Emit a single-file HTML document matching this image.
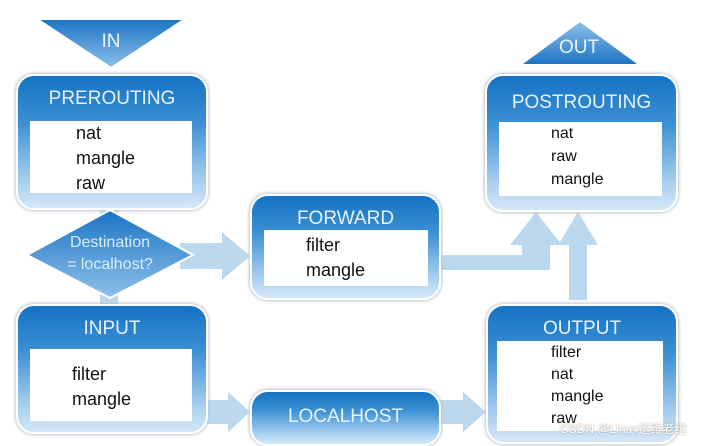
<!DOCTYPE html><html><head><style>
body{margin:0;width:702px;height:442px;background:#fff;position:relative;overflow:hidden;font-family:"Liberation Sans",sans-serif}
.b{position:absolute;border-radius:18px;border:2px solid #fff;box-shadow:0 0 3px 1px #b8c4d0;background:linear-gradient(#1573c4 0%,#3b8fd3 35%,#a9cff0 80%,#d5e8f8 100%)}
.t{position:absolute;left:0;right:0;text-align:center;color:#e8f2fc;font-size:19px}
.w{position:absolute;background:#fff;color:#111;font-size:18px;line-height:25px}
svg{position:absolute;left:0;top:0}
</style></head><body>
<svg width="702" height="442">
<defs><linearGradient id="g" x1="0" y1="0" x2="0" y2="1"><stop offset="0" stop-color="#1a74c4"/><stop offset="1" stop-color="#8fc0ea"/></linearGradient>
<linearGradient id="g2" x1="0" y1="0" x2="0" y2="1"><stop offset="0" stop-color="#8fc0ea"/><stop offset="1" stop-color="#1a74c4"/></linearGradient></defs>
<g fill="#bcd8ef">
<rect x="100" y="205" width="18" height="100"/>
<polygon points="180,243 222,243 222,232 250,256 222,280 222,269 180,269"/>
<polygon points="440,255 522,255 522,245 510,245 536,212 562,245 550,245 550,270 440,270"/>
<polygon points="569,300 569,245 558,245 578,212 598,245 587,245 587,300"/>
<polygon points="205,400 228,400 228,392 250,412 228,432 228,424 205,424"/>
<polygon points="440,400 463,400 463,392 486,412 463,432 463,424 440,424"/>
</g>
<polygon points="37,19 185,19 111,68" fill="url(#g)" stroke="#fff" stroke-width="2"/>
<polygon points="520,65 640,65 580,21" fill="url(#g2)" stroke="#fff" stroke-width="2"/>
<text x="111" y="47" fill="#e8f2fc" font-size="19" text-anchor="middle" font-family="Liberation Sans">IN</text>
<text x="579" y="53" fill="#e8f2fc" font-size="19" text-anchor="middle" font-family="Liberation Sans">OUT</text>
</svg>
<div class="b" style="left:16px;top:74px;width:188px;height:132px"><div class="t" style="top:12px">PREROUTING</div>
<div class="w" style="left:12px;top:45px;width:162px;height:72px;padding-left:46px;box-sizing:border-box;padding-top:0">nat<br>mangle<br>raw</div></div>
<svg width="702" height="442"><polygon points="110,210 193,255 110,298 27,255" fill="url(#g)" stroke="#fff" stroke-width="2"/>
<text x="110" y="247" fill="#dbeaf8" font-size="16" text-anchor="middle" font-family="Liberation Sans">Destination</text>
<text x="110" y="269" fill="#dbeaf8" font-size="16" text-anchor="middle" font-family="Liberation Sans">= localhost?</text></svg>
<div class="b" style="left:250px;top:194px;width:187px;height:102px"><div class="t" style="top:12px">FORWARD</div>
<div class="w" style="left:12px;top:34px;width:164px;height:56px;padding-left:42px;box-sizing:border-box;padding-top:3px">filter<br>mangle</div></div>
<div class="b" style="left:485px;top:74px;width:189px;height:134px"><div class="t" style="top:16px">POSTROUTING</div>
<div class="w" style="left:12px;top:46px;width:163px;height:74px;padding-left:52px;box-sizing:border-box;font-size:16px;line-height:23px;padding-top:0">nat<br>raw<br>mangle</div></div>
<div class="b" style="left:16px;top:304px;width:188px;height:126px"><div class="t" style="top:12px">INPUT</div>
<div class="w" style="left:12px;top:43px;width:162px;height:72px;padding-left:42px;box-sizing:border-box;padding-top:13px">filter<br>mangle</div></div>
<div class="b" style="left:250px;top:390px;width:187px;height:52px"><div class="t" style="top:14px">LOCALHOST</div></div>
<div class="b" style="left:486px;top:304px;width:188px;height:136px"><div class="t" style="top:12px">OUTPUT</div>
<div class="w" style="left:9px;top:35px;width:166px;height:90px;padding-left:54px;box-sizing:border-box;font-size:16px;line-height:22px;padding-top:1px">filter<br>nat<br>mangle<br>raw</div></div>
<div style="position:absolute;left:560px;top:420px;color:#fff;font-size:12px;text-shadow:0 0 2px #888">CSDN @Linux运维老纪</div>
</body></html>
